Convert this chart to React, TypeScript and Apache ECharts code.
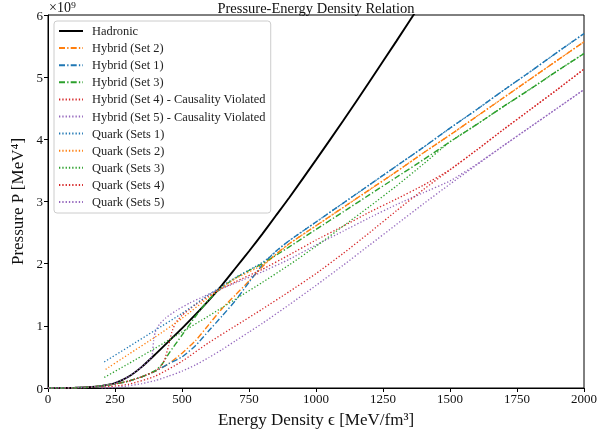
import React, { useEffect, useRef } from "react";
import * as echarts from "echarts";

// ---- data (pressure in units of 1e9 MeV^4, energy density in MeV/fm^3) ----
const HADRONIC_E = [0, 50, 100, 150, 200, 250, 300, 350, 400, 450, 500, 550, 600, 650, 700, 750, 800, 850, 900, 1000, 1100, 1200, 1300, 1400];
const HADRONIC_P = [0, 0.001, 0.004, 0.012, 0.035, 0.08, 0.18, 0.34, 0.54, 0.75, 0.96, 1.18, 1.41, 1.66, 1.93, 2.2, 2.48, 2.77, 3.06, 3.67, 4.29, 4.93, 5.58, 6.24];

const HYB2_E = [0, 50, 100, 150, 200, 250, 300, 350, 400, 450, 500, 550, 600, 650, 700, 750, 800, 850, 900, 1000, 1100, 1200, 1300, 1400, 1500, 1600, 1700, 1800, 1900, 2000];
const HYB2_P = [0, 0.001, 0.004, 0.012, 0.035, 0.065, 0.11, 0.18, 0.27, 0.39, 0.56, 0.76, 1.02, 1.28, 1.5, 1.72, 1.95, 2.15, 2.32, 2.61, 2.9, 3.19, 3.48, 3.78, 4.07, 4.37, 4.67, 4.97, 5.27, 5.57];

const HYB1_E = [0, 50, 100, 150, 200, 250, 300, 350, 400, 450, 500, 550, 600, 650, 700, 750, 800, 850, 900, 1000, 1100, 1200, 1300, 1400, 1500, 1600, 1700, 1800, 1900, 2000];
const HYB1_P = [0, 0.001, 0.004, 0.012, 0.035, 0.065, 0.11, 0.18, 0.27, 0.39, 0.5, 0.68, 0.92, 1.16, 1.41, 1.7, 1.98, 2.2, 2.37, 2.67, 2.97, 3.27, 3.57, 3.87, 4.18, 4.48, 4.79, 5.09, 5.4, 5.7];

const HYB3_E = [0, 50, 100, 150, 200, 250, 300, 350, 400, 425, 450, 500, 550, 600, 650, 700, 750, 800, 900, 1000, 1100, 1200, 1300, 1400, 1500, 1600, 1700, 1800, 1900, 2000];
const HYB3_P = [0, 0.001, 0.004, 0.012, 0.035, 0.065, 0.11, 0.18, 0.28, 0.38, 0.55, 0.85, 1.15, 1.42, 1.62, 1.77, 1.89, 2.0, 2.27, 2.55, 2.83, 3.11, 3.39, 3.67, 3.96, 4.24, 4.53, 4.81, 5.1, 5.38];

const HYB4_E = [0, 50, 100, 150, 200, 250, 300, 350, 400, 420, 435, 450, 462, 475, 500, 550, 600, 650, 700, 800, 900, 1000, 1100, 1200, 1300, 1400, 1500, 1600, 1700, 1800, 1900, 2000];
const HYB4_P = [0, 0.001, 0.004, 0.012, 0.035, 0.065, 0.11, 0.18, 0.27, 0.34, 0.45, 0.68, 0.9, 1.04, 1.17, 1.34, 1.48, 1.6, 1.71, 1.91, 2.14, 2.38, 2.6, 2.83, 3.04, 3.26, 3.51, 3.83, 4.16, 4.48, 4.8, 5.13];

const HYB5_E = [0, 50, 100, 150, 200, 250, 300, 350, 385, 390, 394, 400, 415, 440, 480, 530, 580, 630, 700, 800, 900, 1000, 1100, 1200, 1300, 1400, 1500, 1600, 1700, 1800, 1900, 2000];
const HYB5_P = [0, 0.001, 0.004, 0.012, 0.035, 0.08, 0.18, 0.34, 0.48, 0.56, 0.76, 0.9, 1.02, 1.13, 1.25, 1.37, 1.47, 1.57, 1.69, 1.87, 2.07, 2.3, 2.52, 2.74, 2.95, 3.14, 3.33, 3.6, 3.9, 4.2, 4.5, 4.8];

const QRK1_E = [210, 300, 400, 500, 600, 650, 700, 800, 900, 1000, 1100, 1200, 1300, 1400, 1500, 1600, 1700, 1800, 1900, 2000];
const QRK1_P = [0.42, 0.66, 0.93, 1.2, 1.5, 1.64, 1.78, 2.02, 2.37, 2.67, 2.97, 3.27, 3.57, 3.87, 4.18, 4.48, 4.79, 5.09, 5.4, 5.7];

const QRK2_E = [215, 300, 400, 500, 600, 650, 700, 800, 900, 1000, 1100, 1200, 1300, 1400, 1500, 1600, 1700, 1800, 1900, 2000];
const QRK2_P = [0.3, 0.54, 0.82, 1.12, 1.46, 1.62, 1.76, 1.98, 2.32, 2.61, 2.9, 3.19, 3.48, 3.78, 4.07, 4.37, 4.67, 4.97, 5.27, 5.57];

const QRK3_E = [210, 300, 400, 500, 600, 700, 800, 900, 1000, 1100, 1200, 1300, 1400, 1500, 1600, 1700, 1800, 1900, 2000];
const QRK3_P = [0.17, 0.39, 0.64, 0.9, 1.16, 1.43, 1.7, 1.98, 2.28, 2.6, 2.92, 3.25, 3.6, 3.96, 4.24, 4.53, 4.81, 5.1, 5.38];

const QRK4_E = [200, 300, 400, 500, 600, 700, 800, 900, 1000, 1100, 1200, 1300, 1400, 1500, 1600, 1700, 1800, 1900, 2000];
const QRK4_P = [0.01, 0.06, 0.19, 0.43, 0.73, 1.0, 1.27, 1.55, 1.84, 2.16, 2.5, 2.85, 3.19, 3.51, 3.83, 4.16, 4.48, 4.8, 5.13];

const QRK5_E = [200, 250, 300, 350, 400, 450, 500, 550, 600, 650, 700, 750, 800, 900, 1000, 1100, 1200, 1300, 1400, 1500, 1600, 1700, 1800, 1900, 2000];
const QRK5_P = [0, 0.01, 0.035, 0.07, 0.12, 0.19, 0.27, 0.37, 0.49, 0.62, 0.76, 0.9, 1.04, 1.34, 1.65, 1.97, 2.3, 2.63, 2.96, 3.28, 3.59, 3.9, 4.2, 4.5, 4.8];

const X_TICKS = [0, 250, 500, 750, 1000, 1250, 1500, 1750, 2000];
const Y_TICKS = [0, 1, 2, 3, 4, 5, 6];

const TITLE = "Pressure-Energy Density Relation";
const X_LABEL = "Energy Density \u03f5 [MeV/fm\u00b3]";
const Y_LABEL = "Pressure P [MeV\u2074]";
const OFFSET_LABEL = "\u00d710\u2079";

const FONT = "'Liberation Serif', 'DejaVu Serif', serif";

const C = {
  blue: "#1f77b4",
  orange: "#ff7f0e",
  green: "#2ca02c",
  red: "#d62728",
  purple: "#9467bd",
};

const DASHDOT = [6, 2.2, 1.3, 2.2];
const DOTTED = [1.3, 2];

type Def = { name: string; e: number[]; p: number[]; color: string; dash: any; width: number; smooth: number };

const DEFS: Def[] = [
  { name: "Hadronic", e: HADRONIC_E, p: HADRONIC_P, color: "#000000", dash: "solid", width: 1.9, smooth: 0.2 },
  { name: "Hybrid (Set 2)", e: HYB2_E, p: HYB2_P, color: C.orange, dash: DASHDOT, width: 1.4, smooth: 0.2 },
  { name: "Hybrid (Set 1)", e: HYB1_E, p: HYB1_P, color: C.blue, dash: DASHDOT, width: 1.4, smooth: 0.2 },
  { name: "Hybrid (Set 3)", e: HYB3_E, p: HYB3_P, color: C.green, dash: DASHDOT, width: 1.4, smooth: 0.2 },
  { name: "Hybrid (Set 4) - Causality Violated", e: HYB4_E, p: HYB4_P, color: C.red, dash: DOTTED, width: 1.3, smooth: 0.12 },
  { name: "Hybrid (Set 5) - Causality Violated", e: HYB5_E, p: HYB5_P, color: C.purple, dash: DOTTED, width: 1.3, smooth: 0.12 },
  { name: "Quark (Sets 1)", e: QRK1_E, p: QRK1_P, color: C.blue, dash: DOTTED, width: 1.3, smooth: 0.2 },
  { name: "Quark (Sets 2)", e: QRK2_E, p: QRK2_P, color: C.orange, dash: DOTTED, width: 1.3, smooth: 0.2 },
  { name: "Quark (Sets 3)", e: QRK3_E, p: QRK3_P, color: C.green, dash: DOTTED, width: 1.3, smooth: 0.2 },
  { name: "Quark (Sets 4)", e: QRK4_E, p: QRK4_P, color: C.red, dash: DOTTED, width: 1.3, smooth: 0.2 },
  { name: "Quark (Sets 5)", e: QRK5_E, p: QRK5_P, color: C.purple, dash: DOTTED, width: 1.3, smooth: 0.2 },
];

export default function App() {
  const ref = useRef<HTMLDivElement>(null);
  useEffect(() => {
    if (!ref.current) return;
    const chart = echarts.init(ref.current, null, { renderer: "svg" });
    const series = DEFS.map((d) => ({
      name: d.name,
      type: "line",
      data: d.e.map((x, i) => [x, d.p[i]]),
      showSymbol: false,
      symbol: "none",
      smooth: d.smooth,
      clip: true,
      color: d.color,
      lineStyle: { color: d.color, width: d.width, type: d.dash },
      emphasis: { disabled: true },
    }));
    chart.setOption({
      animation: false,
      grid: {
        left: 48,
        right: 32,
        top: 15,
        bottom: 51,
        show: true,
        borderColor: "#000",
        borderWidth: 1,
        backgroundColor: "transparent",
      },
      xAxis: {
        type: "value",
        min: X_TICKS[0],
        max: X_TICKS[X_TICKS.length - 1],
        interval: 250,
        name: X_LABEL,
        nameLocation: "middle",
        nameGap: 23,
        nameTextStyle: { fontFamily: FONT, fontSize: 17, color: "#111" },
        axisLine: { show: true, lineStyle: { color: "#000", width: 1 } },
        axisTick: { show: true, length: 4, lineStyle: { color: "#000" } },
        axisLabel: { fontFamily: FONT, fontSize: 13, color: "#111", margin: 4, formatter: (v: number) => String(v) },
        splitLine: { show: false },
      },
      yAxis: {
        type: "value",
        min: Y_TICKS[0],
        max: Y_TICKS[Y_TICKS.length - 1],
        interval: 1,
        name: Y_LABEL,
        nameLocation: "middle",
        nameGap: 10,
        nameTextStyle: { fontFamily: FONT, fontSize: 17, color: "#111" },
        axisLine: { show: true, lineStyle: { color: "#000", width: 1 } },
        axisTick: { show: true, length: 4, lineStyle: { color: "#000" } },
        axisLabel: { fontFamily: FONT, fontSize: 13, color: "#111", margin: 5, formatter: (v: number) => String(v) },
        splitLine: { show: false },
      },
      legend: {
        data: DEFS.map((d) => d.name),
        orient: "vertical",
        left: 54,
        top: 21,
        itemWidth: 24,
        itemHeight: 10,
        itemGap: 5.1,
        padding: [4, 5, 5, 4],
        borderColor: "#cccccc",
        borderWidth: 1,
        borderRadius: 3,
        backgroundColor: "rgba(255,255,255,0.85)",
        selectedMode: false,
        itemStyle: { opacity: 0, borderWidth: 0 },
        textStyle: { fontFamily: FONT, fontSize: 12.4, color: "#222", lineHeight: 10, padding: [0, 0, 0, 4] },
      },
      graphic: [
        {
          type: "text",
          x: 316,
          y: 0,
          style: { text: TITLE, fontFamily: FONT, fontSize: 14.5, fill: "#111", align: "center", verticalAlign: "top" },
        },
        {
          type: "text",
          x: 49,
          y: 0,
          style: { text: OFFSET_LABEL, fontFamily: FONT, fontSize: 14, fill: "#111", align: "left", verticalAlign: "top" },
        },
      ],
      series,
    });
    return () => chart.dispose();
  }, []);
  return <div ref={ref} style={{ position: "fixed", left: 0, top: 0, width: 616, height: 439 }} />;
}
